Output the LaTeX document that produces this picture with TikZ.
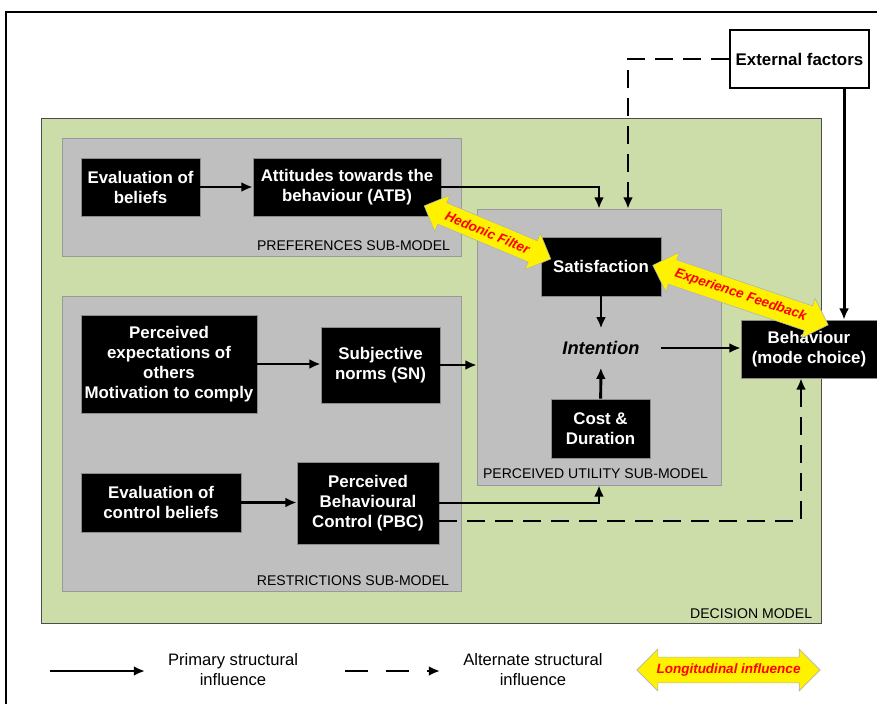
\documentclass[tikz,border=0pt]{standalone}
\usepackage{fontspec}
\setmainfont{Liberation Sans}
\usepackage{tikz}
\usetikzlibrary{calc}
\usetikzlibrary{arrows.meta,shapes.arrows}

\definecolor{modelgreen}{RGB}{204,221,170}
\definecolor{submodelgray}{RGB}{191,191,191}

\begin{document}
\begin{tikzpicture}[x=0.025cm,y=-0.025cm,
  blackbox/.style={draw=black!45,fill=black,text=white,align=center,inner sep=0pt,
    font=\fontsize{12}{14.2}\selectfont\bfseries},
  region/.style={draw=black!40,fill=submodelgray,inner sep=0pt},
  regionlabel/.style={anchor=base east,inner sep=0pt,font=\fontsize{10}{12}\selectfont},
  legendtext/.style={align=center,inner sep=0pt,font=\fontsize{11.8}{14.2}\selectfont},
  flow/.style={-{Latex[length=8pt,width=7pt]},line width=2.1pt},
  altflow/.style={flow,dash pattern=on 0.45cm off 0.25cm},
  longitud/.style={shape=double arrow,fill=yellow,draw=black!30,text=red,sloped,
    double arrow head extend=0.2cm,inner xsep=1pt,inner ysep=4.5pt,
    font=\fontsize{9.6}{10}\selectfont\bfseries\itshape}
]
\clip (0,0) rectangle (877,704);

% Outer frame
\draw[line width=1.6pt] (6,720) -- (6,12) -- (900,12);

% Decision model and sub-models
\node[draw=black!70,fill=modelgreen,inner sep=0pt,minimum width=19.5cm,minimum height=12.625cm] (decision) at (431,370.5) {};
\node[region,minimum width=9.975cm,minimum height=2.95cm] (pref) at (261.5,197) {};
\node[region,minimum width=9.975cm,minimum height=7.375cm] (restr) at (261.5,443.5) {};
\node[region,minimum width=6.1cm,minimum height=6.9cm] (util) at (599,347) {};

\node[regionlabel] (preflabel) at ($(pref.south east)+(-11,-6)$) {PREFERENCES SUB-MODEL};
\node[regionlabel] (restrlabel) at ($(restr.south east)+(-12,-6)$) {RESTRICTIONS SUB-MODEL};
\node[regionlabel] (utillabel) at ($(util.south east)+(-13,-7)$) {PERCEIVED UTILITY SUB-MODEL};
\node[regionlabel] (decisionlabel) at ($(decision.south east)+(-9,-5)$) {DECISION MODEL};

% Boxes
\node[blackbox,minimum width=2.98cm,minimum height=1.45cm] (evb) at (140.5,187) {Evaluation of\\beliefs};
\node[blackbox,minimum width=4.7cm,minimum height=1.45cm] (atb) at (347,187) {Attitudes towards the\\behaviour (ATB)};
\node[blackbox,minimum width=4.4cm,minimum height=2.45cm] (pexp) at (169,364) {Perceived\\expectations of\\others\\Motivation to comply};
\node[blackbox,minimum width=2.98cm,minimum height=1.9cm] (sn) at (380.5,365) {Subjective\\norms (SN)};
\node[blackbox,minimum width=4cm,minimum height=1.48cm] (ecb) at (161,502.5) {Evaluation of\\control beliefs};
\node[blackbox,minimum width=3.55cm,minimum height=2.05cm] (pbc) at (368,503) {Perceived\\Behavioural\\Control (PBC)};
\node[blackbox,minimum width=3cm,minimum height=1.48cm] (sat) at (601,266.5) {Satisfaction};
\node[inner xsep=15pt,inner ysep=9pt,font=\fontsize{13}{15}\selectfont\bfseries\itshape] (intent) at (601,348) {Intention};
\node[blackbox,minimum width=2.48cm,minimum height=1.48cm] (cost) at (600.5,428.5) {Cost \&\\Duration};
\node[blackbox,minimum width=3.4cm,minimum height=1.45cm] (beh) at (809,349) {Behaviour\\(mode choice)};
\node[draw,line width=1.3pt,fill=white,inner sep=0pt,minimum width=3.48cm,minimum height=1.45cm,
  font=\fontsize{12}{14.2}\selectfont\bfseries] (ext) at (799.5,59) {External factors};

% Structural influences
\draw[flow] (evb) -- (atb);
\draw[flow] (atb.east) -| (util.north);
\draw[altflow] (ext.west) -| ($(util.north)+(29,0)$);
\coordinate (extdrop) at ($(ext.south east)+(-26,0)$);
\draw[flow] (extdrop) -- (extdrop |- beh.north);
\draw[flow] (sat) -- (intent);
\draw[flow] (cost) -- (intent);
\draw[flow] (intent.east) -- (intent.east -| beh.west);
\draw[flow] (pexp.east) -- (pexp.east -| sn.west);
\draw[flow] (sn.east) -- (sn.east -| util.west);
\draw[flow] (ecb.east) -- (ecb.east -| pbc.west);
\draw[flow] (pbc.east) -| (util.south);
\coordinate (pbcout) at ($(pbc.east)+(0,18)$);
\draw[altflow] (pbcout) -| ($(beh.south)+(-8,0)$);

% Longitudinal influences
\coordinate (hfa) at ($(atb.south east)+(-16,-10)$);
\coordinate (hfb) at ($(sat.west)+(9,-8)$);
\path (hfa) -- node[longitud,minimum height=3.43cm] (hedonic) {Hedonic Filter} (hfb);
\coordinate (efa) at ($(sat.east)+(-8,-1)$);
\coordinate (efb) at ($(beh.north west)+(87,5)$);
\path (efa) -- node[longitud,minimum height=4.63cm] (feedback) {Experience Feedback} (efb);

% Legend
\coordinate (pa) at (50,671);
\coordinate (pb) at (145,671);
\draw[flow] (pa) -- (pb);
\node[legendtext] (ptext) at (233,670) {Primary structural\\influence};
\coordinate (aa) at (345,671);
\coordinate (ab) at (440,671);
\draw[flow,dash pattern=on 0.575cm off 0.45cm] (aa) -- (ab);
\node[legendtext] (atext) at (533,670) {Alternate structural\\influence};
\coordinate (la) at (637,670);
\coordinate (lb) at (820,670);
\path (la) -- node[longitud,minimum height=4.58cm] (ltext) {Longitudinal influence} (lb);
\end{tikzpicture}
\end{document}
